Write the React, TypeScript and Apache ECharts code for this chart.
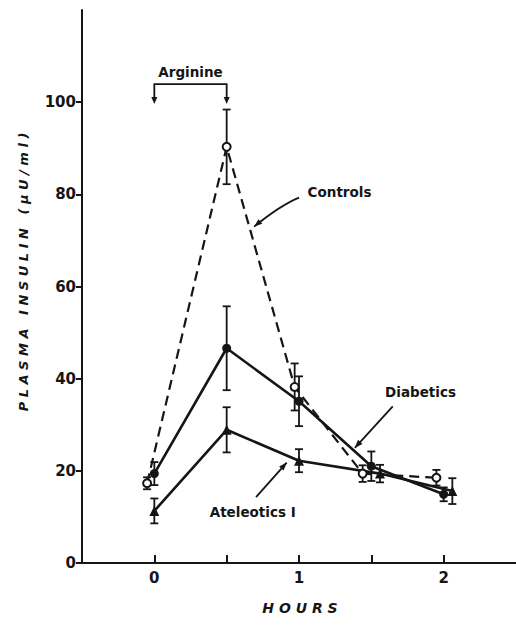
import React, { useEffect, useRef } from "react";
import * as echarts from "echarts";

// axis ticks / labels
const xTickValues = [0, 0.5, 1, 1.5, 2];
const xLabelValues = [0, 1, 2];
const yTickValues = [0, 20, 40, 60, 80, 100];

// Controls (open circles, dashed)
const controlsX = [-0.05, 0.5, 0.97, 1.44, 1.95];
const controlsY = [17.3, 90.3, 38.2, 19.4, 18.5];
const controlsErr = [1.3, 8.1, 5.1, 1.8, 1.7];

// Diabetics (filled circles, solid)
const diabeticsX = [0, 0.5, 1.0, 1.5, 2.0];
const diabeticsY = [19.4, 46.6, 35.1, 21.0, 14.9];
const diabeticsErr = [2.5, 9.1, 5.4, 3.2, 1.5];

// Ateleotics I (filled triangles, solid)
const ateleoticsX = [0, 0.5, 1.0, 1.56, 2.06];
const ateleoticsY = [11.3, 28.9, 22.2, 19.4, 15.6];
const ateleoticsErr = [2.7, 4.9, 2.5, 1.9, 2.8];

// Arginine infusion window
const arginineStart = 0;
const arginineEnd = 0.5;

const INK = "#151515";
const FONT = "DejaVu Sans";

function errorSeries(xs: number[], ys: number[], errs: number[]) {
  return {
    type: "custom",
    silent: true,
    z: 3,
    data: xs.map((x, i) => [x, ys[i] - errs[i], ys[i] + errs[i]]),
    encode: { x: 0, y: [1, 2] },
    renderItem: (_params: any, api: any) => {
      const lo = api.coord([api.value(0), api.value(1)]);
      const hi = api.coord([api.value(0), api.value(2)]);
      const w = 4;
      const st = { stroke: INK, lineWidth: 1.8 };
      return {
        type: "group",
        children: [
          { type: "line", shape: { x1: lo[0], y1: lo[1], x2: hi[0], y2: hi[1] }, style: st },
          { type: "line", shape: { x1: lo[0] - w, y1: lo[1], x2: lo[0] + w, y2: lo[1] }, style: st },
          { type: "line", shape: { x1: hi[0] - w, y1: hi[1], x2: hi[0] + w, y2: hi[1] }, style: st },
        ],
      };
    },
  };
}

function pairs(xs: number[], ys: number[]) {
  return xs.map((x, i) => [x, ys[i]]);
}

export default function App() {
  const ref = useRef<HTMLDivElement>(null);
  useEffect(() => {
    const chart = echarts.init(ref.current!, null, { renderer: "svg" });
    const option: any = {
      animation: false,
      backgroundColor: "#fff",
      textStyle: { fontFamily: FONT },
      grid: { left: 82, right: 0, top: 10, bottom: 63, containLabel: false, outerBoundsMode: "none" },
      xAxis: {
        type: "value",
        min: -0.5,
        max: 2.5,
        interval: 0.5,
        splitLine: { show: false },
        axisLine: { show: true, onZero: false, lineStyle: { color: INK, width: 2 } },
        axisTick: { show: true, inside: true, length: 8, customValues: xTickValues, lineStyle: { color: INK, width: 2 } },
        axisLabel: {
          customValues: xLabelValues,
          color: INK,
          fontSize: 15,
          fontWeight: "bold",
          fontFamily: FONT,
          margin: 7,
        },
      },
      yAxis: {
        type: "value",
        min: 0,
        max: 120,
        interval: 20,
        splitLine: { show: false },
        axisLine: { show: true, onZero: false, lineStyle: { color: INK, width: 2 } },
        axisTick: { show: true, inside: false, length: 6, customValues: yTickValues, lineStyle: { color: INK, width: 2 } },
        axisLabel: {
          customValues: yTickValues,
          color: INK,
          fontSize: 15,
          fontWeight: "bold",
          fontFamily: FONT,
          margin: 6,
        },
      },
      series: [
        {
          name: "Controls",
          type: "line",
          data: pairs(controlsX, controlsY),
          symbol: "emptyCircle",
          symbolSize: 8,
          z: 6,
          lineStyle: { color: INK, width: 2.2, type: [10, 6] },
          itemStyle: { color: INK, borderColor: INK, borderWidth: 1.8 },
        },
        {
          name: "Diabetics",
          type: "line",
          data: pairs(diabeticsX, diabeticsY),
          symbol: "circle",
          symbolSize: 9,
          z: 5,
          lineStyle: { color: INK, width: 2.6 },
          itemStyle: { color: INK },
        },
        {
          name: "Ateleotics I",
          type: "line",
          data: pairs(ateleoticsX, ateleoticsY),
          symbol: "triangle",
          symbolSize: 10,
          z: 5,
          lineStyle: { color: INK, width: 2.6 },
          itemStyle: { color: INK },
        },
        errorSeries(controlsX, controlsY, controlsErr),
        errorSeries(diabeticsX, diabeticsY, diabeticsErr),
        errorSeries(ateleoticsX, ateleoticsY, ateleoticsErr),
      ],
    };
    chart.setOption(option);

    const px = (x: number, y: number) => chart.convertToPixel({ gridIndex: 0 }, [x, y]) as number[];
    const head = (from: number[], to: number[], len = 8, half = 3.5) => {
      const dx = to[0] - from[0];
      const dy = to[1] - from[1];
      const L = Math.hypot(dx, dy) || 1;
      const ux = dx / L;
      const uy = dy / L;
      const bx = to[0] - ux * len;
      const by = to[1] - uy * len;
      return {
        type: "polygon",
        shape: { points: [[to[0], to[1]], [bx - uy * half, by + ux * half], [bx + uy * half, by - ux * half]] },
        style: { fill: INK },
      };
    };
    const txt = (p: number[], s: string, size = 13.5) => ({
      type: "text",
      x: p[0],
      y: p[1],
      style: { text: s, fill: INK, font: `bold ${size}px "${FONT}"`, textAlign: "center", textVerticalAlign: "middle" },
    });
    const seg = (a: number[], b: number[], w = 1.8) => ({
      type: "line",
      shape: { x1: a[0], y1: a[1], x2: b[0], y2: b[1] },
      style: { stroke: INK, lineWidth: w },
    });

    // Arginine bracket
    const bTopL = px(arginineStart, 103.9);
    const bTopR = px(arginineEnd, 103.9);
    const tipL = px(arginineStart, 99.6);
    const tipR = px(arginineEnd, 99.6);
    // Controls arrow
    const cFrom = px(1.0, 79.3);
    const cCtrl = px(0.87, 77.6);
    const cTip = px(0.69, 73.0);
    // Diabetics arrow
    const dFrom = px(1.648, 34.0);
    const dTip = px(1.386, 25.0);
    // Ateleotics arrow
    const aFrom = px(0.703, 14.3);
    const aTip = px(0.915, 21.8);

    const graphic: any[] = [
      txt(px(0.25, 106.6), "Arginine"),
      { type: "polyline", shape: { points: [[tipL[0], tipL[1] - 6], bTopL, bTopR, [tipR[0], tipR[1] - 6]] }, style: { stroke: INK, lineWidth: 1.8, fill: "none" } },
      head([tipL[0], tipL[1] - 12], tipL, 7, 3),
      head([tipR[0], tipR[1] - 12], tipR, 7, 3),
      txt(px(1.28, 80.5), "Controls"),
      {
        type: "bezierCurve",
        shape: { x1: cFrom[0], y1: cFrom[1], x2: cTip[0], y2: cTip[1], cpx1: cCtrl[0], cpy1: cCtrl[1] },
        style: { stroke: INK, lineWidth: 1.8, fill: "none" },
      },
      head(cCtrl, cTip, 8, 3),
      txt(px(1.84, 37.0), "Diabetics"),
      seg(dFrom, dTip),
      head(dFrom, dTip, 8, 3),
      txt(px(0.68, 11.0), "Ateleotics I"),
      seg(aFrom, aTip),
      head(aFrom, aTip, 8, 3),
      {
        type: "text",
        x: 23,
        y: 272,
        rotation: Math.PI / 2,
        style: {
          text: "P L A S M A   I N S U L I N   ( μ U / m l )",
          fill: INK,
          font: `italic bold 13px "${FONT}"`,
          textAlign: "center",
          textVerticalAlign: "middle",
        },
      },
      {
        type: "text",
        x: 300,
        y: 608,
        style: {
          text: "H O U R S",
          fill: INK,
          font: `italic bold 14px "${FONT}"`,
          textAlign: "center",
          textVerticalAlign: "middle",
        },
      },
    ];
    chart.setOption({ graphic });
    return () => chart.dispose();
  }, []);
  return (
    <div
      ref={ref}
      style={{ position: "absolute", left: 0, top: 0, width: 516, height: 626, background: "#fff" }}
    />
  );
}
